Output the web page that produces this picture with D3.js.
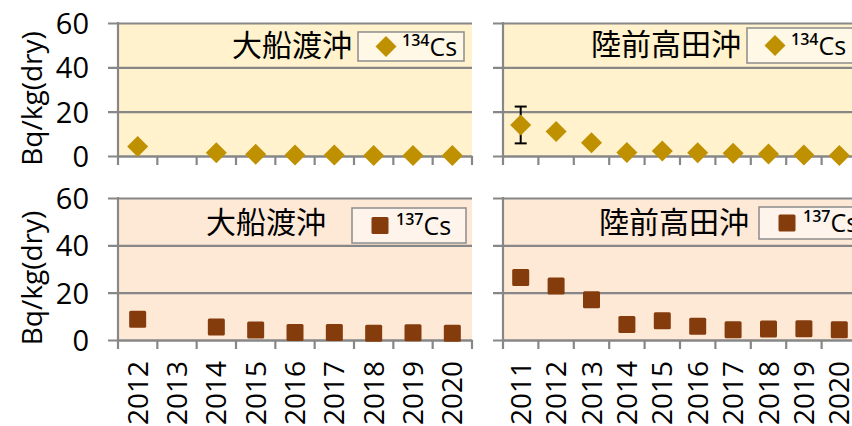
<!DOCTYPE html>
<html><head><meta charset="utf-8">
<script src="https://cdn.jsdelivr.net/npm/d3@7"></script>
<style>
html,body{margin:0;padding:0;background:#fff;}
svg{display:block;font-family:"Open Sans","Noto Sans",sans-serif;}
</style></head>
<body><svg id="c" width="852" height="426"></svg>
<script>
// ---- data ----
const yearsOfunato = ["2012","2013","2014","2015","2016","2017","2018","2019","2020"];
const yearsRikuzen = ["2011","2012","2013","2014","2015","2016","2017","2018","2019","2020"];
const yTicks = [0, 20, 40, 60];
const cs134Ofunato = [4.3, null, 1.5, 0.8, 0.5, 0.4, 0.2, 0.2, 0.2];
const cs134Rikuzen = [14, 11, 6, 1.6, 2.2, 1.5, 1.2, 0.9, 0.45, 0.2];
const cs134RikuzenErr = [8.3, null, null, null, null, null, null, null, null, null];
const cs137Ofunato = [8.75, null, 5.5, 4.2, 3.2, 3.2, 2.8, 3.1, 2.8];
const cs137Rikuzen = [26.4, 22.8, 17, 6.6, 8.1, 5.8, 4.3, 4.6, 4.8, 4.3];
const siteNames = ["大船渡沖", "陸前高田沖"];
const yLabel = "Bq/kg(dry)";

const svg = d3.select("#c");
const gridCol = "#878787";

const panels = [
  {years: yearsOfunato, vals: cs134Ofunato, err: null, name: siteNames[0], iso: "134", shape: "diamond",
   x0: 118, x1: 472, yTop: 23, yBot: 156, showY: true, showX: false,
   bg: "#FFF2CC", lgBg: "#FFF8E6", titleX: 352, titleY: 56, lg: [358, 32, 106, 29]},
  {years: yearsRikuzen, vals: cs134Rikuzen, err: cs134RikuzenErr, name: siteNames[1], iso: "134", shape: "diamond",
   x0: 503, x1: 857, yTop: 23, yBot: 156, showY: false, showX: false,
   bg: "#FFF2CC", lgBg: "#FFF8E6", titleX: 741, titleY: 55, lg: [747, 28, 110, 35]},
  {years: yearsOfunato, vals: cs137Ofunato, err: null, name: siteNames[0], iso: "137", shape: "square",
   x0: 118, x1: 472, yTop: 198, yBot: 340, showY: true, showX: true,
   bg: "#FEE9D7", lgBg: "#FFF4EC", titleX: 326, titleY: 233, lg: [352, 208, 114, 35]},
  {years: yearsRikuzen, vals: cs137Rikuzen, err: null, name: siteNames[1], iso: "137", shape: "square",
   x0: 503, x1: 857, yTop: 198, yBot: 340, showY: false, showX: true,
   bg: "#FEE9D7", lgBg: "#FFF4EC", titleX: 749, titleY: 233, lg: [759, 207, 100, 32]}
];

const markerColor = {diamond: "#BF9000", square: "#843C0C"};

function drawMarker(g, shape, cx, cy) {
  if (shape === "diamond") {
    const r = 10.5;
    g.append("path").attr("d", `M${cx},${cy-r}L${cx+r},${cy}L${cx},${cy+r}L${cx-r},${cy}Z`)
      .attr("fill", markerColor.diamond);
  } else {
    const s = 17;
    g.append("rect").attr("x", cx - s/2).attr("y", cy - s/2).attr("width", s).attr("height", s)
      .attr("rx", 1.5).attr("fill", markerColor.square);
  }
}

panels.forEach(p => {
  const g = svg.append("g");
  const x = d3.scaleBand().domain(p.years).range([p.x0, p.x1]);
  const y = d3.scaleLinear().domain([0, 60]).range([p.yBot, p.yTop]);

  g.append("rect").attr("x", p.x0).attr("y", p.yTop).attr("width", p.x1 - p.x0).attr("height", p.yBot - p.yTop)
    .attr("fill", p.bg);

  // gridlines + y ticks
  const yAxis = g.append("g").attr("transform", `translate(${p.x0},0)`)
    .call(d3.axisLeft(y).tickValues(yTicks).tickSize(10).tickFormat(p.showY ? d3.format("d") : () => ""));
  yAxis.select(".domain").remove();
  yAxis.selectAll(".tick line").attr("stroke", gridCol).attr("stroke-width", 2.2)
    .attr("x2", -10).attr("x1", p.x1 - p.x0);
  yAxis.selectAll(".tick text").attr("x", -29).attr("font-size", 29).attr("fill", "#000")
    .attr("font-family", "Open Sans").attr("dy", "0.36em");

  // vertical axis line
  g.append("line").attr("x1", p.x0).attr("x2", p.x0).attr("y1", p.yTop - 1).attr("y2", p.yBot)
    .attr("stroke", gridCol).attr("stroke-width", 2.2);

  // x axis
  const xAxis = g.append("g").attr("transform", `translate(0,${p.yBot})`)
    .call(d3.axisBottom(x).tickSize(0).tickFormat(p.showX ? d => d : () => ""));
  xAxis.select(".domain").attr("stroke", gridCol).attr("stroke-width", 2.2);
  xAxis.selectAll(".tick line").remove();
  // tick marks at band boundaries
  const bounds = p.years.map(d => x(d)).concat([x(p.years[p.years.length-1]) + x.bandwidth()]);
  g.selectAll(null).data(bounds).enter().append("line")
    .attr("x1", d => d).attr("x2", d => d).attr("y1", p.yBot).attr("y2", p.yBot + 9)
    .attr("stroke", gridCol).attr("stroke-width", 2.2);
  if (p.showX) {
    xAxis.selectAll(".tick text")
      .attr("transform", "rotate(-90)")
      .attr("text-anchor", "end").attr("x", -21).attr("y", 0).attr("dy", "0.36em")
      .attr("font-size", 28).attr("fill", "#000").attr("font-family", "Open Sans");
  }

  // title
  g.append("text").attr("x", p.titleX).attr("y", p.titleY).attr("text-anchor", "end")
    .attr("font-family", "Noto Sans CJK JP").attr("font-size", 30).attr("fill", "#000").text(p.name);

  // legend
  const [lx, ly, lw, lh] = p.lg;
  g.append("rect").attr("x", lx).attr("y", ly).attr("width", lw).attr("height", lh)
    .attr("fill", p.lgBg).attr("stroke", "#8c8c8c").attr("stroke-width", 1.5);
  drawMarker(g, p.shape, lx + 28, ly + lh/2);
  const lt = g.append("text").attr("x", lx + 44).attr("y", ly + lh/2 + 9).attr("fill", "#000")
    .attr("font-family", "Open Sans");
  lt.append("tspan").attr("font-size", 16).attr("font-weight", 600).attr("dy", -10).text(p.iso);
  lt.append("tspan").attr("font-size", 25).attr("dy", 10).text("Cs");

  // error bars
  if (p.err) {
    p.years.forEach((yr, i) => {
      const e = p.err[i];
      if (e == null || p.vals[i] == null) return;
      const cx = x(yr) + x.bandwidth()/2;
      const yHi = y(p.vals[i] + e), yLo = y(p.vals[i] - e);
      g.append("line").attr("x1", cx).attr("x2", cx).attr("y1", yHi).attr("y2", yLo).attr("stroke", "#000").attr("stroke-width", 2);
      [yHi, yLo].forEach(yy => g.append("line").attr("x1", cx - 6).attr("x2", cx + 6).attr("y1", yy).attr("y2", yy)
        .attr("stroke", "#000").attr("stroke-width", 2));
    });
  }

  // markers
  p.years.forEach((yr, i) => {
    const v = p.vals[i];
    if (v == null) return;
    drawMarker(g, p.shape, x(yr) + x.bandwidth()/2, y(v));
  });

  // y label
  if (p.showY) {
    g.append("text").attr("transform", `translate(32,${(p.yTop + p.yBot)/2 + 9}) rotate(-90)`)
      .attr("text-anchor", "middle").attr("dy", "0.36em").attr("font-size", 28)
      .attr("font-family", "Open Sans").attr("fill", "#000").text(yLabel);
  }
});
</script></body></html>
